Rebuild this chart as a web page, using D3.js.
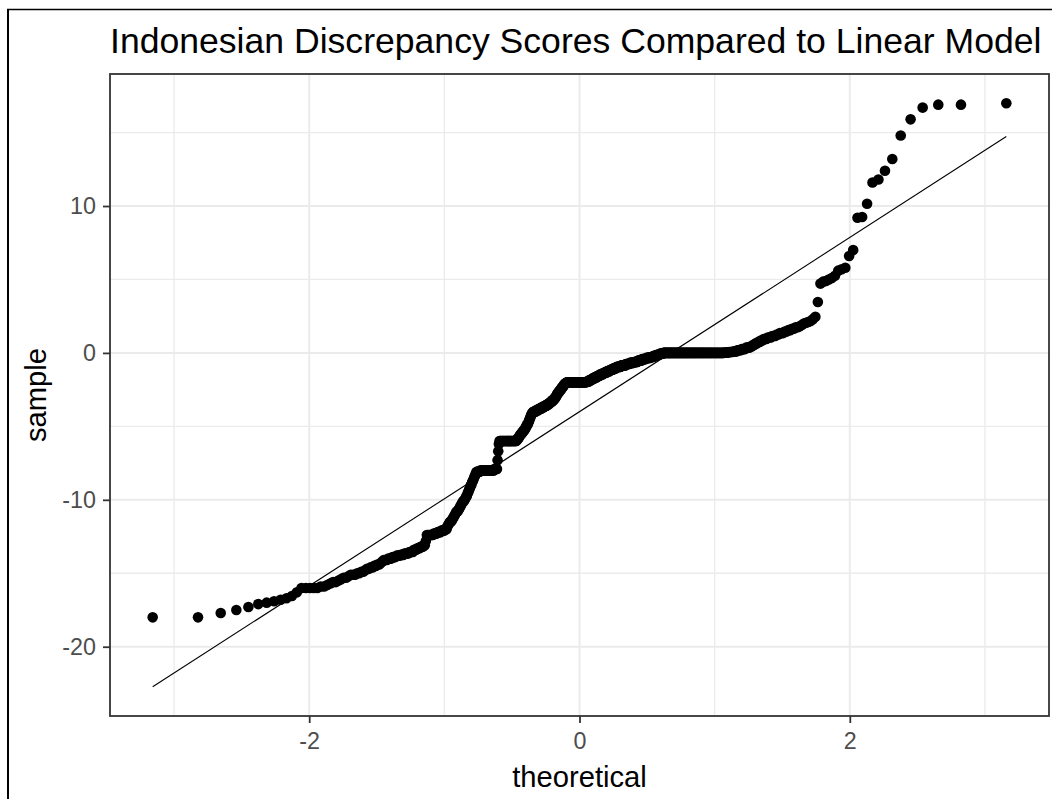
<!DOCTYPE html>
<html>
<head>
<meta charset="utf-8">
<script src="https://cdn.jsdelivr.net/npm/d3@7"></script>
<style>
  html, body { margin: 0; padding: 0; background: #ffffff; }
  svg { display: block; font-family: "Liberation Sans", Arial, sans-serif; }
</style>
</head>
<body>
<svg id="chart" width="1052" height="799"></svg>
<script>
// ---- Data ----
const titleText = "Indonesian Discrepancy Scores Compared to Linear Model";
const xLabel = "theoretical";
const yLabel = "sample";
const xTicks = [-2, 0, 2];
const xMinorTicks = [-3, -1, 1, 3];
const yTicks = [-20, -10, 0, 10];
const yMinorTicks = [-15, -5, 5, 15];

// Sorted sample values as [value, count] runs (n = 630)
const sampleRuns = [
  [-18.0,2],[-17.7,1],[-17.5,1],[-17.3,1],[-17.1,1],[-17.0,1],[-16.9,1],[-16.8,1],[-16.7,1],[-16.55,1],[-16.3,1],[-16.0,5],
  [-15.9,2],[-15.8,1],[-15.7,1],[-15.6,2],[-15.5,1],[-15.4,1],[-15.3,2],[-15.2,1],
  [-15.1,3],[-15.0,2],[-14.9,2],[-14.8,1],
  [-14.7,2],[-14.6,2],[-14.5,2],[-14.4,2],[-14.3,1],[-14.2,1],
  [-14.1,3],[-14.0,3],[-13.9,3],[-13.8,3],
  [-13.75,3],[-13.65,4],[-13.55,4],[-13.4,3],
  [-13.3,3],[-13.2,3],[-13.1,2],
  [-12.8,1],[-12.4,7],
  [-12.3,4],[-12.2,4],[-12.1,4],[-12.0,3],
  [-11.8,1],[-11.7,1],[-11.6,1],[-11.5,2],[-11.4,1],[-11.3,1],[-11.2,1],[-11.1,1],[-11.0,1],[-10.9,1],
  [-10.8,2],[-10.7,1],[-10.6,1],[-10.5,1],[-10.4,1],[-10.3,1],[-10.2,1],[-10.1,2],[-10.0,1],[-9.9,1],[-9.8,1],
  [-9.7,1],[-9.55,1],[-9.45,1],[-9.3,1],[-9.2,1],[-9.05,1],[-8.95,1],[-8.8,1],[-8.7,1],[-8.6,1],[-8.45,1],[-8.35,1],[-8.2,1],
  [-8.1,5],[-8.0,21],[-7.9,5],
  [-7.3,1],[-6.7,1],[-6.2,1],
  [-6.0,28],
  [-5.9,2],[-5.8,2],[-5.7,1],[-5.6,2],[-5.5,2],[-5.4,2],[-5.3,2],[-5.2,2],[-5.1,1],[-5.0,1],
  [-4.9,2],[-4.8,1],[-4.7,1],[-4.6,1],[-4.5,1],[-4.4,1],[-4.3,1],[-4.2,1],[-4.1,2],[-4.0,1],
  [-4.0,4],[-3.9,5],[-3.8,5],[-3.7,5],[-3.6,5],
  [-3.5,4],[-3.4,3],[-3.3,3],[-3.2,3],[-3.1,2],[-3.0,2],[-2.9,1],
  [-2.8,2],[-2.7,2],[-2.6,2],[-2.5,2],[-2.4,2],[-2.3,2],[-2.2,2],[-2.1,2],[-2.05,2],
  [-2.0,37],
  [-1.95,5],[-1.85,5],[-1.75,5],[-1.65,5],[-1.55,5],
  [-1.45,6],[-1.35,6],[-1.25,6],[-1.15,6],[-1.05,6],
  [-0.95,8],[-0.85,8],[-0.75,7],[-0.68,7],
  [-0.62,7],[-0.52,7],[-0.42,7],[-0.34,7],
  [-0.28,5],[-0.2,5],[-0.12,5],[-0.05,5],
  [0,79],
  [0.02,5],[0.06,4],[0.1,4],[0.18,4],[0.26,4],[0.36,4],
  [0.45,2],[0.55,2],[0.65,2],[0.75,2],[0.85,2],[0.95,3],
  [1.05,3],[1.15,3],[1.25,2],[1.35,3],
  [1.45,2],[1.55,2],[1.65,2],[1.75,2],[1.82,1],
  [1.9,1],[2.0,1],[2.05,1],[2.1,1],[2.17,1],
  [2.3,1],[2.46,1],
  [3.47,1],[4.72,1],[4.85,1],[4.9,1],[5.0,1],[5.1,1],[5.25,1],[5.6,1],[5.7,1],[5.8,1],
  [6.6,1],[7.0,1],[9.2,1],[9.25,1],[10.15,1],[11.6,1],[11.8,1],[12.4,1],[13.2,1],
  [14.8,1],[15.9,1],[16.7,1],[16.9,2],[17.0,1]
];

// ---- Normal quantile function (stat_qq theoretical quantiles) ----
function qnorm(p) {
  const a=[-3.969683028665376e+01,2.209460984245205e+02,-2.759285104469687e+02,1.383577518672690e+02,-3.066479806614716e+01,2.506628277459239e+00];
  const b=[-5.447609879822406e+01,1.615858368580409e+02,-1.556989798598866e+02,6.680131188771972e+01,-1.328068155288572e+01];
  const c=[-7.784894002430293e-03,-3.223964580411365e-01,-2.400758277161838e+00,-2.549732539343734e+00,4.374664141464968e+00,2.938163982698783e+00];
  const d=[7.784695709041462e-03,3.224671290700398e-01,2.445134137142996e+00,3.754408661907416e+00];
  const pl = 0.02425, ph = 1 - pl;
  let q, r;
  if (p < pl) {
    q = Math.sqrt(-2 * Math.log(p));
    return (((((c[0]*q+c[1])*q+c[2])*q+c[3])*q+c[4])*q+c[5]) / ((((d[0]*q+d[1])*q+d[2])*q+d[3])*q+1);
  }
  if (p <= ph) {
    q = p - 0.5; r = q * q;
    return (((((a[0]*r+a[1])*r+a[2])*r+a[3])*r+a[4])*r+a[5])*q / (((((b[0]*r+b[1])*r+b[2])*r+b[3])*r+b[4])*r+1);
  }
  q = Math.sqrt(-2 * Math.log(1 - p));
  return -(((((c[0]*q+c[1])*q+c[2])*q+c[3])*q+c[4])*q+c[5]) / ((((d[0]*q+d[1])*q+d[2])*q+d[3])*q+1);
}

// expand runs into sorted sample
const sample = [];
sampleRuns.forEach(([v, k]) => { for (let j = 0; j < k; j++) sample.push(v); });
sample.sort((a, b) => a - b);
const n = sample.length;
const points = sample.map((v, i) => ({ x: qnorm((i + 0.5) / n), y: v }));

// qq line through quartiles
const q1 = d3.quantile(sample, 0.25), q3 = d3.quantile(sample, 0.75);
const z1 = qnorm(0.25), z3 = qnorm(0.75);
const slope = (q3 - q1) / (z3 - z1);
const intercept = q1 - slope * z1;
const xExt = d3.extent(points, d => d.x);
const lineData = xExt.map(x => ({ x, y: intercept + slope * x }));

// ---- Layout ----
const svg = d3.select("#chart");
const W = 1052, H = 799;
const P = { left: 110, right: 1049, top: 74, bottom: 716 };

function expand(ext) { const s = (ext[1] - ext[0]) * 0.05; return [ext[0] - s, ext[1] + s]; }
const yExt = d3.extent(points.map(d => d.y).concat(lineData.map(d => d.y)));

const x = d3.scaleLinear().domain(expand(xExt)).range([P.left, P.right]);
const y = d3.scaleLinear().domain(expand(yExt)).range([P.bottom, P.top]);

svg.append("rect").attr("width", W).attr("height", H).attr("fill", "#fff");

// outer frame fragments
svg.append("line").attr("x1", 7).attr("x2", W).attr("y1", 9.5).attr("y2", 9.5)
  .attr("stroke", "#000").attr("stroke-width", 1.5);
svg.append("line").attr("x1", 8).attr("x2", 8).attr("y1", 9).attr("y2", H)
  .attr("stroke", "#000").attr("stroke-width", 2);

// gridlines
const grid = svg.append("g");
grid.selectAll(".xminor").data(xMinorTicks).join("line")
  .attr("x1", d => x(d)).attr("x2", d => x(d)).attr("y1", P.top).attr("y2", P.bottom)
  .attr("stroke", "#ebebeb").attr("stroke-width", 1.3);
grid.selectAll(".yminor").data(yMinorTicks).join("line")
  .attr("y1", d => y(d)).attr("y2", d => y(d)).attr("x1", P.left).attr("x2", P.right)
  .attr("stroke", "#ebebeb").attr("stroke-width", 1.3);
grid.selectAll(".xmajor").data(xTicks).join("line")
  .attr("x1", d => x(d)).attr("x2", d => x(d)).attr("y1", P.top).attr("y2", P.bottom)
  .attr("stroke", "#ebebeb").attr("stroke-width", 2);
grid.selectAll(".ymajor").data(yTicks).join("line")
  .attr("y1", d => y(d)).attr("y2", d => y(d)).attr("x1", P.left).attr("x2", P.right)
  .attr("stroke", "#ebebeb").attr("stroke-width", 2);

// qq line
svg.append("path").datum(lineData)
  .attr("d", d3.line().x(d => x(d.x)).y(d => y(d.y)))
  .attr("stroke", "#000").attr("stroke-width", 1.1).attr("fill", "none");

// points
svg.append("g").selectAll("circle").data(points).join("circle")
  .attr("cx", d => x(d.x)).attr("cy", d => y(d.y)).attr("r", 5.3).attr("fill", "#000");

// panel border
svg.append("rect").attr("x", P.left).attr("y", P.top)
  .attr("width", P.right - P.left).attr("height", P.bottom - P.top)
  .attr("fill", "none").attr("stroke", "#333333").attr("stroke-width", 1.8);

// axes
const xAxis = d3.axisBottom(x).tickValues(xTicks).tickSize(7).tickPadding(9).tickFormat(d3.format("d"));
const yAxis = d3.axisLeft(y).tickValues(yTicks).tickSize(7).tickPadding(7).tickFormat(d3.format("d"));
const gx = svg.append("g").attr("transform", `translate(0,${P.bottom})`).call(xAxis);
const gy = svg.append("g").attr("transform", `translate(${P.left},0)`).call(yAxis);
[gx, gy].forEach(g => {
  g.select(".domain").remove();
  g.selectAll(".tick line").attr("stroke", "#333333").attr("stroke-width", 1.8);
  g.selectAll(".tick text").attr("fill", "#4d4d4d").attr("font-size", 23.3)
    .attr("font-family", "'Liberation Sans', Arial, sans-serif");
});
gx.selectAll(".tick text").text(d => String(d).replace("\u2212", "-"));
gy.selectAll(".tick text").text(d => String(d).replace("\u2212", "-"));

// title & axis titles
svg.append("text").attr("x", 110).attr("y", 53).attr("font-size", 35.6).attr("fill", "#000")
  .text(titleText);
svg.append("text").attr("x", (P.left + P.right) / 2).attr("y", 787)
  .attr("text-anchor", "middle").attr("font-size", 29.2).attr("fill", "#000").text(xLabel);
svg.append("text").attr("transform", `translate(46,${(P.top + P.bottom) / 2}) rotate(-90)`)
  .attr("text-anchor", "middle").attr("font-size", 29.2).attr("fill", "#000").text(yLabel);
</script>
</body>
</html>
